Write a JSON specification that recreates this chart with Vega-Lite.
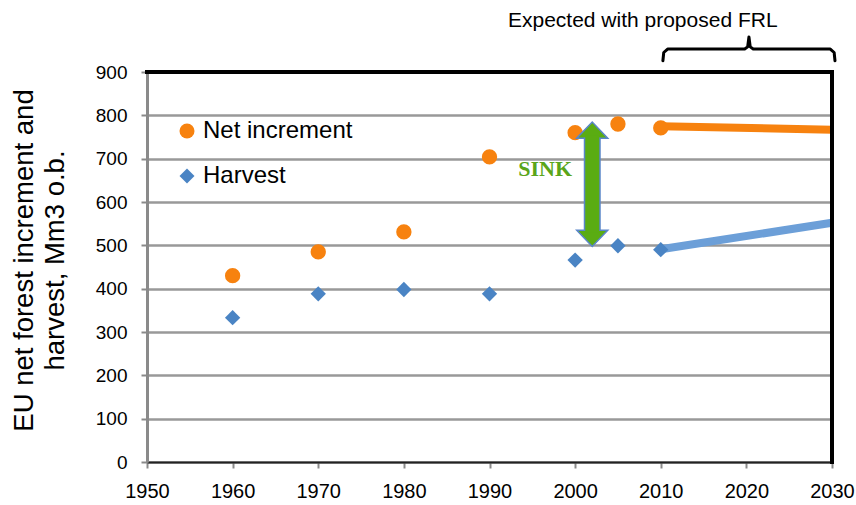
{
  "$schema": "https://vega.github.io/schema/vega-lite/v6.json",
  "width": 685,
  "height": 390,
  "autosize": {"type": "none"},
  "padding": {"left": 147, "top": 72, "right": 24, "bottom": 43},
  "background": "white",
  "config": {
    "view": {"stroke": null},
    "font": "Liberation Sans"
  },
  "datasets": {
    "points": [
      {"series": "Net increment", "year": 1960, "value": 430},
      {"series": "Net increment", "year": 1970, "value": 485},
      {"series": "Net increment", "year": 1980, "value": 531},
      {"series": "Net increment", "year": 1990, "value": 704},
      {"series": "Net increment", "year": 2000, "value": 760},
      {"series": "Net increment", "year": 2005, "value": 780},
      {"series": "Net increment", "year": 2010, "value": 771},
      {"series": "Harvest", "year": 1960, "value": 333},
      {"series": "Harvest", "year": 1970, "value": 388},
      {"series": "Harvest", "year": 1980, "value": 398},
      {"series": "Harvest", "year": 1990, "value": 388},
      {"series": "Harvest", "year": 2000, "value": 466},
      {"series": "Harvest", "year": 2005, "value": 499},
      {"series": "Harvest", "year": 2010, "value": 490}
    ],
    "proj": [
      {"series": "Net increment", "year": 2010, "value": 775},
      {"series": "Net increment", "year": 2030, "value": 767},
      {"series": "Harvest", "year": 2010, "value": 491},
      {"series": "Harvest", "year": 2030, "value": 552}
    ],
    "arrow": [{"year": 2002, "top": 748, "bottom": 534, "topIn": 753, "bottomIn": 529}],
    "heads": [
      {"year": 2002, "value": 766, "dir": "up"},
      {"year": 2002, "value": 516, "dir": "down"}
    ],
    "bracket": [
      {"order": 1, "year": 2010.25, "value": 926},
      {"order": 2, "year": 2010.35, "value": 945},
      {"order": 3, "year": 2010.8, "value": 953},
      {"order": 4, "year": 2019.8, "value": 953},
      {"order": 5, "year": 2020.15, "value": 958},
      {"order": 6, "year": 2020.3, "value": 981},
      {"order": 7, "year": 2020.45, "value": 958},
      {"order": 8, "year": 2020.8, "value": 953},
      {"order": 9, "year": 2029.8, "value": 953},
      {"order": 10, "year": 2030.25, "value": 945},
      {"order": 11, "year": 2030.35, "value": 926}
    ],
    "labels": [
      {"kind": "sink", "text": "SINK", "year": 1996.5, "value": 661},
      {"kind": "frl", "text": "Expected with proposed FRL", "year": 2007.9, "value": 1004}
    ],
    "frame": [
      {"side": "top", "year": 1950, "year2": 2030, "value": 900, "value2": 900},
      {"side": "right", "year": 2030, "year2": 2030, "value": 0, "value2": 900}
    ]
  },
  "encoding": {
    "x": {
      "field": "year",
      "type": "quantitative",
      "scale": {"domain": [1950, 2030], "nice": false, "zero": false},
      "axis": {
        "title": null,
        "values": [1950, 1960, 1970, 1980, 1990, 2000, 2010, 2020, 2030],
        "format": "d",
        "grid": false,
        "domainColor": "#222222",
        "domainWidth": 2,
        "tickColor": "#8a8a8a",
        "tickWidth": 2,
        "tickSize": 6,
        "labelFont": "Liberation Sans",
        "labelFontSize": 20,
        "labelColor": "black",
        "labelPadding": 13,
        "labelFlush": false,
        "labelOverlap": false
      }
    },
    "y": {
      "field": "value",
      "type": "quantitative",
      "scale": {"domain": [0, 900], "nice": false, "zero": false},
      "axis": {
        "title": ["EU net forest increment and", "harvest, Mm3 o.b."],
        "titleFont": "Liberation Sans",
        "titleFontSize": 27.5,
        "titleFontWeight": "normal",
        "titleColor": "black",
        "titleAngle": -90,
        "titleAlign": "center",
        "titleBaseline": "middle",
        "titleLineHeight": 31,
        "titleX": -123,
        "titleY": 188,
        "values": [0, 100, 200, 300, 400, 500, 600, 700, 800, 900],
        "grid": true,
        "gridColor": "#999999",
        "gridWidth": 2.5,
        "domainColor": "#8a8a8a",
        "domainWidth": 3,
        "tickColor": "#8a8a8a",
        "tickWidth": 2,
        "tickSize": 6,
        "labelFont": "Liberation Sans",
        "labelFontSize": 19,
        "labelColor": "black",
        "labelPadding": 14,
        "labelOverlap": false
      }
    }
  },
  "layer": [
    {
      "data": {"name": "proj"},
      "transform": [{"filter": "datum.series === 'Net increment'"}],
      "mark": {"type": "line", "color": "#f7820f", "strokeWidth": 8, "strokeCap": "butt"}
    },
    {
      "data": {"name": "proj"},
      "transform": [{"filter": "datum.series === 'Harvest'"}],
      "mark": {"type": "line", "color": "#6c9fd8", "strokeWidth": 8, "strokeCap": "butt"}
    },
    {
      "data": {"name": "points"},
      "mark": {"type": "point", "filled": true, "opacity": 1, "size": 235},
      "encoding": {
        "color": {
          "field": "series",
          "type": "nominal",
          "scale": {"domain": ["Net increment", "Harvest"], "range": ["#f7820f", "#4a84c4"]},
          "legend": {
            "orient": "none",
            "legendX": 28,
            "legendY": 47,
            "title": null,
            "padding": 0,
            "labelFont": "Liberation Sans",
            "labelFontSize": 24,
            "labelColor": "black",
            "labelOffset": 4,
            "symbolSize": 225,
            "symbolStrokeWidth": 0,
            "rowPadding": 21
          }
        },
        "shape": {
          "field": "series",
          "type": "nominal",
          "scale": {"domain": ["Net increment", "Harvest"], "range": ["circle", "diamond"]},
          "legend": {
            "orient": "none",
            "legendX": 28,
            "legendY": 47,
            "title": null,
            "padding": 0,
            "labelFont": "Liberation Sans",
            "labelFontSize": 24,
            "labelColor": "black",
            "labelOffset": 4,
            "symbolSize": 225,
            "symbolStrokeWidth": 0,
            "rowPadding": 21
          }
        }
      }
    },
    {
      "data": {"name": "heads"},
      "transform": [{"filter": "datum.dir === 'up'"}],
      "mark": {"type": "point", "filled": true, "opacity": 1, "size": 961, "shape": "M-1,0.52L0,-0.52L1,0.52Z", "fill": "#5aac12", "stroke": "#5a86c9", "strokeWidth": 1.5}
    },
    {
      "data": {"name": "heads"},
      "transform": [{"filter": "datum.dir === 'down'"}],
      "mark": {"type": "point", "filled": true, "opacity": 1, "size": 961, "shape": "M-1,-0.52L0,0.52L1,-0.52Z", "fill": "#5aac12", "stroke": "#5a86c9", "strokeWidth": 1.5}
    },
    {
      "data": {"name": "arrow"},
      "mark": {"type": "rule", "color": "#5a86c9", "strokeWidth": 17, "strokeCap": "butt"},
      "encoding": {"y": {"field": "top", "type": "quantitative"}, "y2": {"field": "bottom"}}
    },
    {
      "data": {"name": "arrow"},
      "mark": {"type": "rule", "color": "#5aac12", "strokeWidth": 14, "strokeCap": "butt"},
      "encoding": {"y": {"field": "topIn", "type": "quantitative"}, "y2": {"field": "bottomIn"}}
    },
    {
      "data": {"name": "bracket"},
      "mark": {"type": "line", "color": "black", "strokeWidth": 3, "strokeJoin": "round", "strokeCap": "round"},
      "encoding": {"order": {"field": "order", "type": "quantitative"}}
    },
    {
      "data": {"name": "labels"},
      "transform": [{"filter": "datum.kind === 'sink'"}],
      "mark": {"type": "text", "font": "Liberation Serif", "fontWeight": "bold", "fontSize": 22, "color": "#5aa51a", "align": "center", "baseline": "alphabetic"},
      "encoding": {"text": {"field": "text"}}
    },
    {
      "data": {"name": "labels"},
      "transform": [{"filter": "datum.kind === 'frl'"}],
      "mark": {"type": "text", "font": "Liberation Sans", "fontSize": 21, "color": "black", "align": "center", "baseline": "alphabetic"},
      "encoding": {"text": {"field": "text"}}
    },
    {
      "data": {"name": "frame"},
      "mark": {"type": "rule", "color": "black", "strokeWidth": 4, "strokeCap": "square"},
      "encoding": {
        "x2": {"field": "year2"},
        "y2": {"field": "value2"},
        "detail": {"field": "side", "type": "nominal"}
      }
    }
  ]
}
